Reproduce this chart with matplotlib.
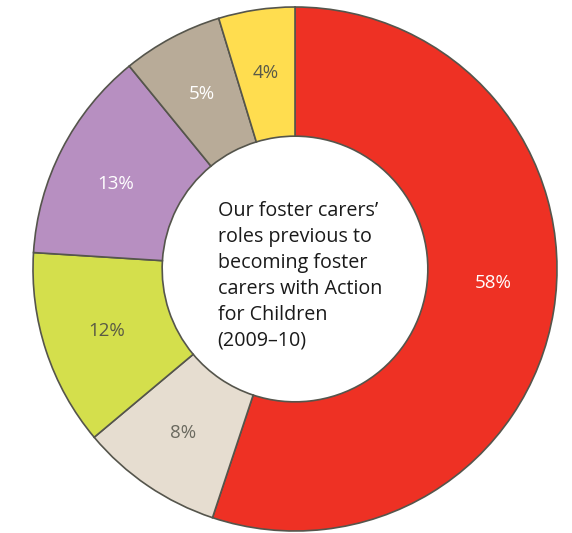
import matplotlib
matplotlib.use("Agg")
import matplotlib.pyplot as plt
import numpy as np

# Slice shares as drawn, clockwise from 12 o'clock
shares = [55.1, 8.8, 12.1, 13.1, 6.2, 4.7]
pct_labels = ["58%", "8%", "12%", "13%", "5%", "4%"]
colors = ["#EE3124", "#E6DDD0", "#D4DF4C", "#B78FC1", "#B8AB98", "#FFDD4F"]
label_colors = ["#FFFFFF", "#6B6A60", "#5A5A45", "#FFFFFF", "#FFFFFF", "#5A5A48"]
center_text = "Our foster carers’\nroles previous to\nbecoming foster\ncarers with Action\nfor Children\n(2009–10)"

plt.rcParams['font.family'] = ['Open Sans', 'DejaVu Sans']

fig = plt.figure(figsize=(5.72, 5.33), dpi=100)
ax = fig.add_axes([33/572, 2/533, 524/572, 524/533])

wedges, _ = ax.pie(shares, colors=colors, startangle=90, counterclock=False,
                   radius=1.0,
                   wedgeprops=dict(width=0.493, edgecolor="#55554C", linewidth=1.2))
for w in wedges:
    w.set_clip_on(False)
ax.set_xlim(-1, 1)
ax.set_ylim(-1, 1)
ax.set_aspect('equal')
ax.axis('off')

# small angular nudges (degrees) for label placement, as in the original layout
label_nudge = [5.1, 0.0, 0.0, 1.9, 0.0, 0.0]
for w, lab, c, nd in zip(wedges, pct_labels, label_colors, label_nudge):
    ang = np.deg2rad((w.theta1 + w.theta2) / 2 + nd)
    r = 0.757
    ax.text(r*np.cos(ang), r*np.sin(ang), lab, ha='center', va='center',
            fontsize=13.5, color=c)

ax.text(-0.295, -0.025, center_text, ha='left', va='center', fontsize=14.2,
        color="#1A1A1A", linespacing=1.40)

fig.savefig("out.png", dpi=100)
